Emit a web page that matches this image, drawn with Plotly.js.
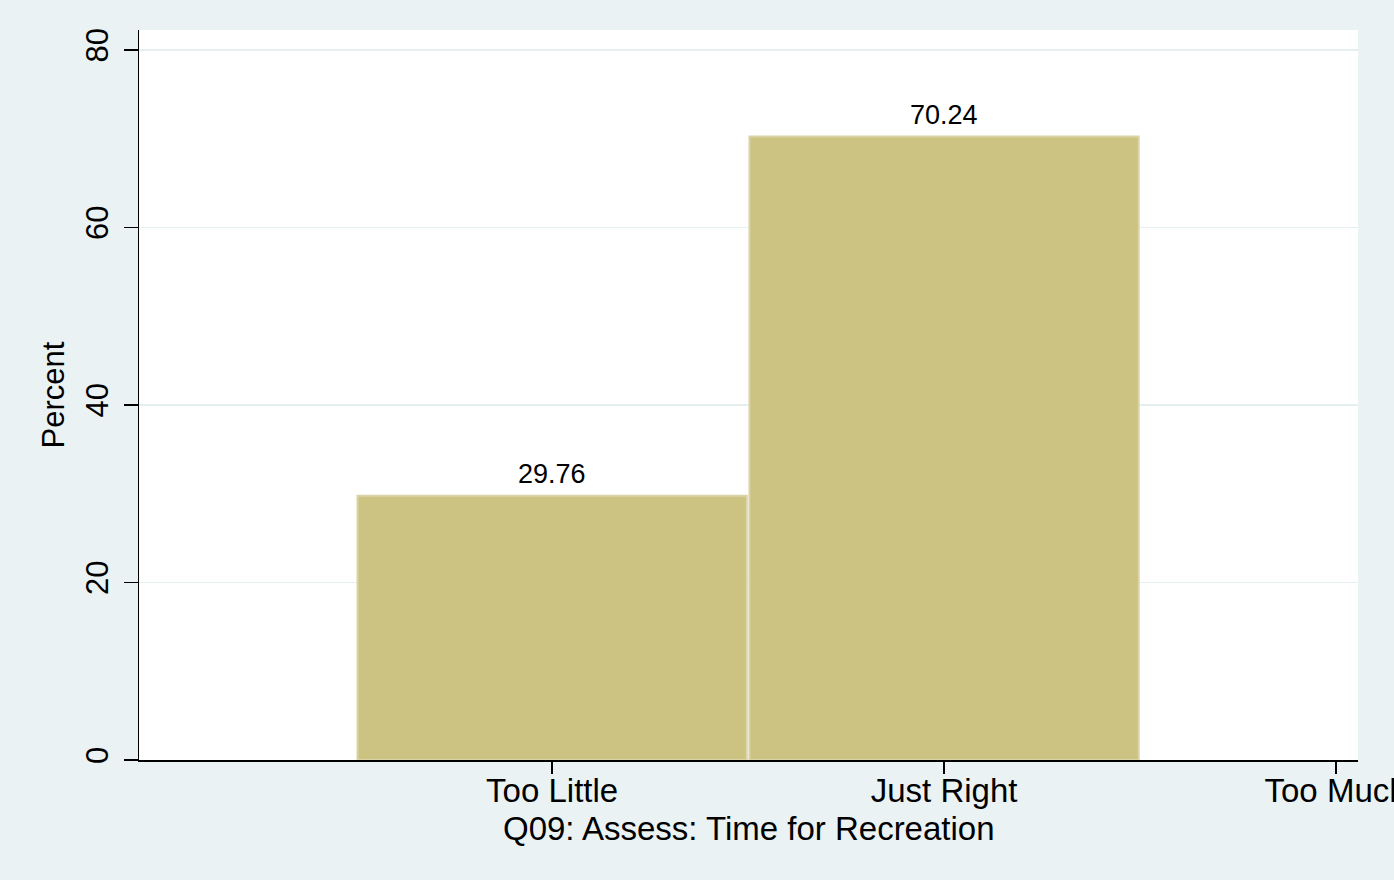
<!DOCTYPE html>
<html>
<head>
<meta charset="utf-8">
<script src="https://cdn.plot.ly/plotly-3.0.1.min.js"></script>
<style>html,body{margin:0;padding:0;background:#EAF2F3;}#chart{width:1394px;height:880px;}</style>
</head>
<body>
<div id="chart"></div>
<script>
var categories = ["Too Little", "Just Right", "Too Much"];
var positions = [1, 2, 3];
var barPositions = [1, 2];
var percentValues = [29.76, 70.24];
var barLabels = ["29.76", "70.24"];
var yTickVals = [0, 20, 40, 60, 80];
var xTitle = "Q09: Assess: Time for Recreation";

var FONT = "Liberation Sans, Arial, Helvetica, sans-serif";

var trace = {
  type: "bar",
  x: barPositions,
  y: percentValues,
  width: 0.993,
  marker: { color: "#CCC281", line: { color: "#DAD3A6", width: 2 } },
  hoverinfo: "x+y"
};

var annotations = barPositions.map(function (p, i) {
  return {
    x: p, y: percentValues[i], xref: "x", yref: "y",
    text: barLabels[i], showarrow: false, yanchor: "bottom", yshift: 5,
    font: { family: FONT, size: 27, color: "#000" }
  };
});
annotations.push({
  x: 0.5, y: -0.0932, xref: "paper", yref: "paper",
  text: xTitle, showarrow: false, xanchor: "center", yanchor: "middle", borderpad: 0,
  font: { family: FONT, size: 33, color: "#000" }
});

var layout = {
  width: 1394, height: 880,
  paper_bgcolor: "#EAF2F3", plot_bgcolor: "#FFFFFF",
  margin: { l: 139, r: 36, t: 30, b: 120 },
  showlegend: false,
  bargap: 0,
  xaxis: {
    range: [-0.054, 3.056],
    tickmode: "array", tickvals: positions, ticktext: categories,
    ticks: "outside", ticklen: 12, tickwidth: 1.5, tickcolor: "#000",
    ticklabeloverflow: "allow",
    ticklabelstandoff: -11,
    showline: true, linecolor: "#000", linewidth: 1.5,
    showgrid: false, zeroline: false,
    tickfont: { family: FONT, size: 33, color: "#000" }
  },
  yaxis: {
    range: [0, 82.25],
    tickmode: "array", tickvals: yTickVals,
    ticks: "outside", ticklen: 14, tickwidth: 1.5, tickcolor: "#000",
    tickangle: -90,
    ticklabelstandoff: 3,
    showline: true, linecolor: "#000", linewidth: 1.5,
    showgrid: true, gridcolor: "#E6EFF0", gridwidth: 1.5,
    zeroline: false,
    tickfont: { family: FONT, size: 31, color: "#000" },
    title: { text: "Percent", font: { family: FONT, size: 31, color: "#000" }, standoff: 6 }
  },
  annotations: annotations
};

Plotly.newPlot("chart", [trace], layout, { displayModeBar: false, staticPlot: true });
</script>
</body>
</html>
